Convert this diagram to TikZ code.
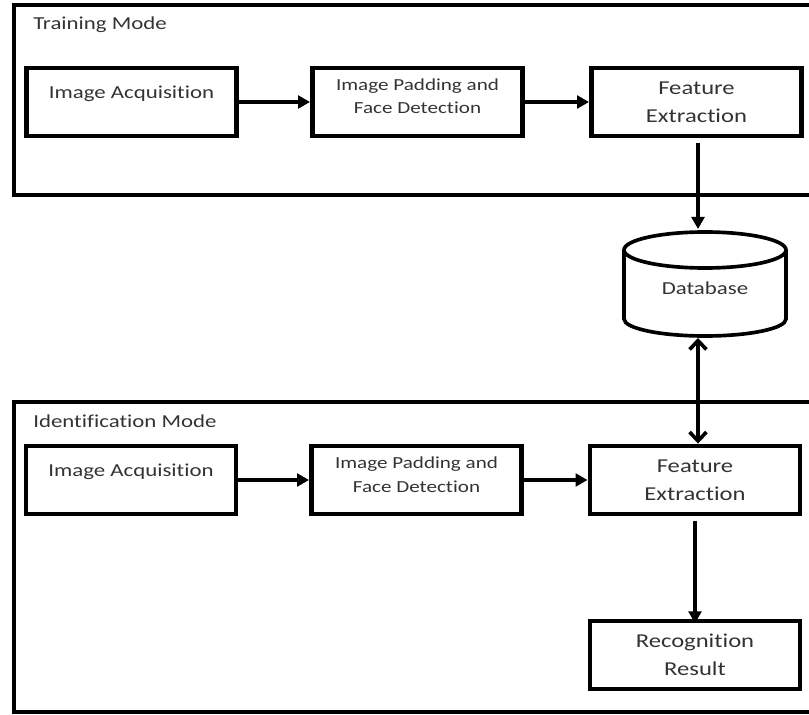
\documentclass[tikz,border=0pt]{standalone}
\usepackage{fontspec}
\setmainfont{Carlito}[FakeStretch=1.25, Ligatures={NoCommon}]
\usetikzlibrary{arrows.meta}

\tikzset{
  frame/.style={line width=3pt},
  blk/.style={draw, line width=3.5pt, minimum width=5.25cm, minimum height=1.7cm},
  txt/.style={text=black!80, align=center, inner sep=0pt, font=\fontsize{13}{16}\selectfont},
  small/.style={font=\fontsize{12}{16.5}\selectfont},
  big/.style={font=\fontsize{14}{20}\selectfont},
  flow/.style={-{Triangle[length=0.3cm,width=0.32cm]}, line width=2.2pt},
  both/.style={{Straight Barb[length=0.22cm,width=0.42cm]}-{Straight Barb[length=0.22cm,width=0.42cm]}, line width=2.6pt}
}

\begin{document}
\begin{tikzpicture}[x=0.025cm, y=-0.025cm]
\useasboundingbox (0,0) rectangle (809,715);
\clip (0,0) rectangle (809,715);

% training
\draw[frame] (14,5) rectangle (840,195);
\node[txt, anchor=west] (tmode) at (33,25) {Training Mode};
\node[blk] (tia) at (131.5,102) {};
\node[blk] (tip) at (417.5,102) {};
\node[blk] (tfe) at (696.5,102) {};
\node[txt] (tiatxt) at ([yshift=0.2cm]tia.center) {Image Acquisition};
\node[txt, small] (tiptxt) at ([yshift=0.15cm]tip.center) {Image Padding and\\Face Detection};
\node[txt, big] (tfetxt) at (tfe) {Feature\\Extraction};

% database
\coordinate (dbtop) at (698,229);
\coordinate (dbbot) at (698,338);
\draw[line width=2.6pt] (624,250) -- (624,319)
  arc[start angle=180, end angle=0, x radius=81, y radius=17] -- (786,250);
\draw[line width=2.6pt] (705,250) ellipse [x radius=81, y radius=18];
\node[txt] (db) at (705,288) {Database};

% identification
\draw[frame] (14,402) rectangle (840,712);
\node[txt, anchor=west] (imode) at (33,421) {Identification Mode};
\node[blk] (iia) at (131,480) {};
\node[blk] (iip) at (416.5,480) {};
\node[blk] (ife) at (695,480) {};
\node[blk] (rr) at (695,655) {};
\node[txt] (iiatxt) at ([yshift=0.2cm]iia.center) {Image Acquisition};
\node[txt, small] (iiptxt) at ([yshift=0.13cm]iip.center) {Image Padding and\\Face Detection};
\node[txt, big] (ifetxt) at (ife) {Feature\\Extraction};
\node[txt, big] (rrtxt) at (rr) {Recognition\\Result};

% connectors
\draw[flow] (tia.east) -- (tip.west);
\draw[flow] (tip.east) -- (tfe.west);
\draw[flow, shorten <=3pt] (tfe.south -| dbtop) -- (dbtop);
\draw[both] (dbbot) -- (dbbot |- ife.north);
\draw[flow] (iia.east) -- (iip.west);
\draw[flow] (iip.east) -- (ife.west);
\draw[flow, shorten <=3pt] (ife.south) -- ([yshift=-0.12cm]rr.north);
\end{tikzpicture}
\end{document}
